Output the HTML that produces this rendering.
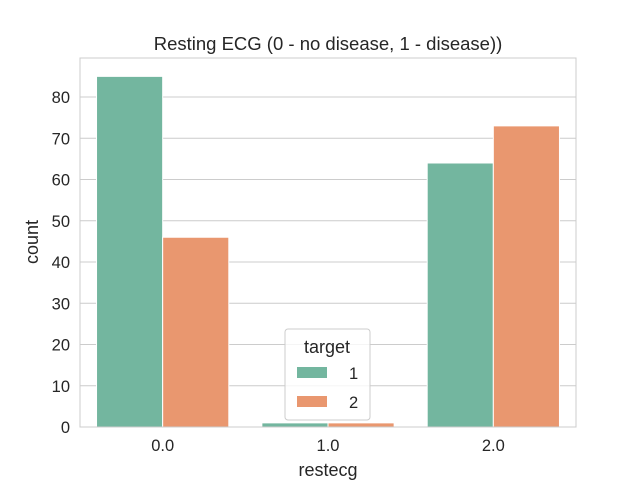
<!DOCTYPE html>
<html><head><meta charset="utf-8"><style>body{margin:0;background:#fff}svg{display:block;font-family:"Liberation Sans",Arial,sans-serif}</style></head>
<body>
<svg width="640" height="480">
<rect x="0" y="0" width="640" height="480" fill="#fff"/>
<g id="grid"></g>
<g id="bars"></g>
<rect x="80" y="58" width="496" height="369" fill="none" stroke="#ccc" stroke-width="1"/>
<g id="ticks"></g>
<text x="328" y="50" text-anchor="middle" font-size="18.5" fill="#262626">Resting ECG (0 - no disease, 1 - disease))</text>
<text x="328" y="476" text-anchor="middle" font-size="18" fill="#262626">restecg</text>
<text transform="translate(38,242) rotate(-90)" text-anchor="middle" font-size="18" fill="#262626">count</text>
<g>
<rect x="285" y="329" width="85" height="91" rx="3" fill="#fff" fill-opacity="0.8" stroke="#ccc"/>
<text x="327" y="353" text-anchor="middle" font-size="18" fill="#262626">target</text>
<rect x="297" y="367" width="30" height="11" fill="#73b69f"/>
<text x="349" y="379" font-size="16.5" fill="#262626">1</text>
<rect x="297" y="396" width="30" height="11" fill="#e9976f"/>
<text x="349" y="408" font-size="16.5" fill="#262626">2</text>
</g>
</svg>
<script>
const categories=["0.0","1.0","2.0"];
const series1=[85,1,64];
const series2=[46,1,73];
const yTicks=[0,10,20,30,40,50,60,70,80];
const NS="http://www.w3.org/2000/svg";
const L=80,R=576,T=58,B=427;
const y=v=>B-v*(B-97)/80;
const band=(R-L)/categories.length;
const x=i=>L+band*i+band/2;
function mk(tag,attrs,parent){const e=document.createElementNS(NS,tag);for(const k in attrs)e.setAttribute(k,attrs[k]);parent.appendChild(e);return e;}
const grid=document.getElementById('grid'),bars=document.getElementById('bars'),ticks=document.getElementById('ticks');
yTicks.forEach(v=>{
 const l=mk('line',{x1:L,x2:R,y1:y(v),y2:y(v),stroke:'#ccc','stroke-width':1},grid);
 
 
 const t=mk('text',{x:L-10,y:y(v)+6,'text-anchor':'end','font-size':16.5,fill:'#262626'},ticks);
 t.textContent=v;
 
 
});
const bw=band*0.4;
categories.forEach((c,i)=>{
 const r1=mk('rect',{x:x(i)-bw,y:y(series1[i]),width:bw,height:B-y(series1[i]),fill:'#73b69f',stroke:'#fff','stroke-width':1},bars);
 
 
 const r2=mk('rect',{x:x(i),y:y(series2[i]),width:bw,height:B-y(series2[i]),fill:'#e9976f',stroke:'#fff','stroke-width':1},bars);
 
 
 const t=mk('text',{x:x(i),y:B+24,'text-anchor':'middle','font-size':16.5,fill:'#262626'},ticks);
 t.textContent=c;
 
 
});
</script>
</body></html>
